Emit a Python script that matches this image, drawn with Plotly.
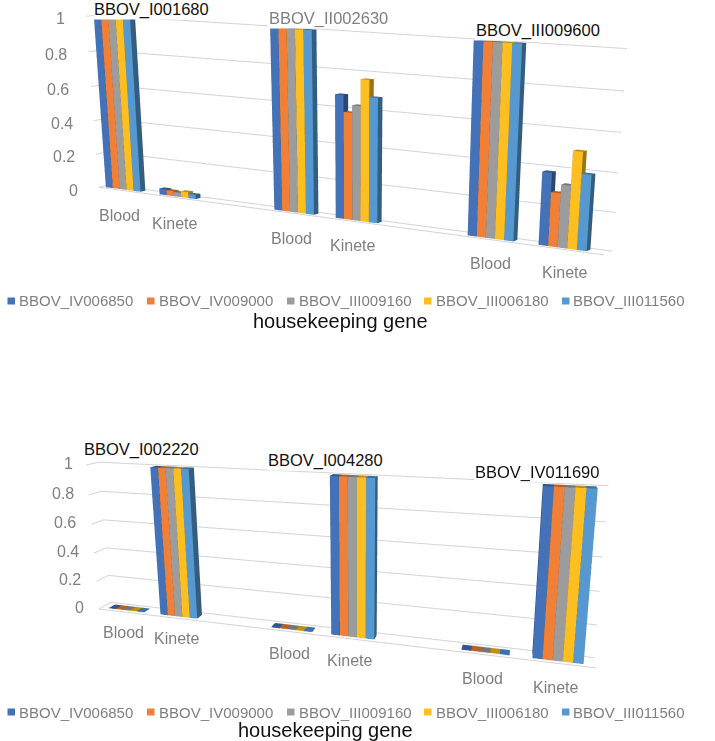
import plotly.graph_objects as go

# --- data -------------------------------------------------------------
series = ["BBOV_IV006850", "BBOV_IV009000", "BBOV_III009160", "BBOV_III006180", "BBOV_III011560"]
colors = ["#4472B8", "#F08038", "#9C9C9C", "#FDBE20", "#5599D0"]
cats = ["Blood", "Kinete"] * 3
slots = [0, 1, 3, 4, 6, 7]
top_genes = ["BBOV_I001680", "BBOV_II002630", "BBOV_III009600"]
bot_genes = ["BBOV_I002220", "BBOV_I004280", "BBOV_IV011690"]
top_vals = [[1, 1, 1, 1, 1], [.035, .03, .025, .035, .025],
            [1, 1, 1, 1, 1], [.675, .585, .625, .765, .675],
            [1, 1, 1, 1, 1], [.38, .28, .325, .50, .39]]
bot_vals = [[.004] * 5, [1] * 5, [.004] * 5, [1] * 5, [.004] * 5, [1] * 5]
ticks = [0, .2, .4, .6, .8, 1]
tick_labels = ["0", "0.2", "0.4", "0.6", "0.8", "1"]
xtitle = "housekeeping gene"

# --- layout -----------------------------------------------------------
W, PH = 715, 741          # visible page
HT = 1300                 # plot height; the top scene is tall so its perspective matches
TOP_H, BOT_H = 1300, 500  # scene heights in pixels
top_cam = [1.4789, -2.2042, 0.3857, 0.2968, -0.3816, -0.7085, 0.0006, 0.0177, 0.0295, 0.2879]
bot_cam = [0.3509, -1.0510, 0.3497, -0.0574, 0.4679, 0.0297, -0.0041, -0.0136, 0.0391, 0.3122]

fig = go.Figure()

def add(scene, vals, H, p, x_off, bw, y0, y1):
    for si, (sn, col) in enumerate(zip(series, colors)):
        X, Y, Z, I, J, K, FC = [], [], [], [], [], [], []
        rgb = [int(col[i:i + 2], 16) for i in (1, 3, 5)]
        sh = lambda k: "rgb(%d,%d,%d)" % tuple(int(c * k) for c in rgb)
        for s, row in zip(slots, vals):
            x0 = s + x_off + si * bw
            x1 = x0 + bw
            z1 = row[si]
            n = len(X)
            X += [x0, x1, x1, x0, x0, x1, x1, x0]
            Y += [y0, y0, y1, y1, y0, y0, y1, y1]
            Z += [0, 0, 0, 0, z1, z1, z1, z1]
            faces = [(0, 1, 5, 1), (0, 5, 4, 1), (1, 2, 6, .62), (1, 6, 5, .62), (4, 5, 6, .75), (4, 6, 7, .75),
                     (3, 0, 4, .62), (3, 4, 7, .62), (2, 3, 7, .62), (2, 7, 6, .62)]
            for a, b, c, k in faces:
                I.append(n + a); J.append(n + b); K.append(n + c); FC.append(sh(k))
        fig.add_trace(go.Mesh3d(x=X, y=Y, z=Z, i=I, j=J, k=K, facecolor=FC, flatshading=True, name=sn, scene=scene,
                                lighting=dict(ambient=1, diffuse=0, specular=0, fresnel=0, roughness=1),
                                hoverinfo='skip'))
    lx, ly, lz = [], [], []
    for t in ticks:
        lx += [0, 0, 8, None]; ly += [0, 1, 1, None]; lz += [t, t, t, None]
    lx += [0, 8]; ly += [0, 0]; lz += [0, 0]
    fig.add_trace(go.Scatter3d(x=lx, y=ly, z=lz, mode='lines', line=dict(color='#D4D4D4', width=2), scene=scene,
                               hoverinfo='skip', showlegend=False))
    ax = dict(visible=False, showgrid=False, zeroline=False, showticklabels=False, showbackground=False, showspikes=False)
    dom = [1 - H / HT, 1] if scene == 'scene' else [1 - PH / HT, 1 - (PH - H) / HT]
    return dict(domain=dict(x=[0, 1], y=dom), bgcolor='rgba(0,0,0,0)',
                xaxis=dict(range=[0, 8], **ax), yaxis=dict(range=[0, 1], **ax), zaxis=dict(range=[0, 1], **ax),
                aspectmode='manual', aspectratio=dict(x=1, y=p[8], z=p[9]),
                camera=dict(projection=dict(type='perspective'), eye=dict(x=p[0], y=p[1], z=p[2]),
                            center=dict(x=p[3], y=p[4], z=p[5]), up=dict(x=p[6], y=p[7], z=1)))

s1 = add('scene', top_vals, TOP_H, top_cam, .09, .13, .25, .70)
s2 = add('scene2', bot_vals, BOT_H, bot_cam, .15, .137, .22, .72)

GR = '#7F7F7F'
BK = '#111111'
anns, shapes = [], []
def T(text, px, py, size=16, color=GR, anchor='center', bg=None):
    d = dict(text=text, x=px / W, y=1 - py / HT, xref='paper', yref='paper', showarrow=False, xanchor=anchor,
             yanchor='middle', font=dict(family='Liberation Sans', size=size, color=color), borderpad=0)
    if bg:
        d['bgcolor'] = bg
    anns.append(d)

top_tick_pos = [(73, 190), (64, 157), (62, 123), (58, 89), (56, 55), (60, 19)]
bot_tick_pos = [(79, 607), (70, 579), (68, 551), (65, 522), (63, 493), (68, 463)]
top_cat_pos = [(119, 216), (174, 223), (291, 238), (352, 246), (490, 263), (564, 272)]
bot_cat_pos = [(124, 632), (176, 639), (289, 653), (349, 661), (483, 678), (555, 687)]
for l, pos in zip(tick_labels, top_tick_pos): T(l, *pos)
for l, pos in zip(tick_labels, bot_tick_pos): T(l, *pos)
for l, pos in zip(cats, top_cat_pos): T(l, *pos)
for l, pos in zip(cats, bot_cat_pos): T(l, *pos)
for g, pos, c in zip(top_genes, [(151, 10), (328, 19), (538, 30)], [BK, GR, BK]):
    T(g, *pos, 16.5, c, bg='white')
for g, pos in zip(bot_genes, [(141, 449), (325, 460), (537, 473)]):
    T(g, *pos, 16.5, BK, bg='white')
T(xtitle, 340, 321, 20, BK)
T(xtitle, 325, 730, 20, BK)
sw_x = [7.5, 147, 287, 424, 562]
tx_x = [18, 158, 298, 435, 572]
for ly in (301, 712):
    for n, c, sx, tx in zip(series, colors, sw_x, tx_x):
        shapes.append(dict(type='rect', xref='paper', yref='paper', x0=sx / W, x1=(sx + 7.5) / W,
                           y0=1 - (ly - 3.5) / HT, y1=1 - (ly + 3.5) / HT, fillcolor=c, line=dict(width=0)))
        T(n, tx, ly, 15, anchor='left')

fig.update_layout(width=W, height=HT, margin=dict(l=0, r=0, t=0, b=0), paper_bgcolor='white', showlegend=False,
                  scene=s1, scene2=s2, annotations=anns, shapes=shapes)
fig.write_html("out.html", config=dict(displayModeBar=False),
               post_script="document.body.style.margin='0';document.documentElement.style.overflow='hidden';document.body.style.overflow='hidden';")
